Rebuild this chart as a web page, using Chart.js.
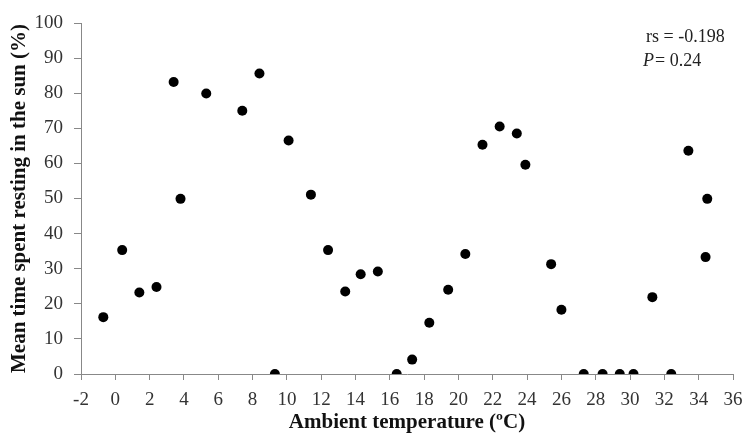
<!DOCTYPE html>
<html>
<head>
<meta charset="utf-8">
<script src="https://cdn.jsdelivr.net/npm/chart.js@4"></script>
<style>
  html, body { margin: 0; padding: 0; background: #fff; }
  #wrap { width: 747px; height: 442px; }
</style>
</head>
<body>
<div id="wrap"><canvas id="chart"></canvas></div>
<script>
// ambient temperature (ºC) and % time resting in the sun
const temps = [-0.7, 0.4, 1.4, 2.4, 3.4, 3.8, 5.3, 7.4, 8.4, 9.3, 10.1, 11.4,
    12.4, 13.4, 14.3, 15.3, 16.4, 17.3, 18.3, 19.4, 20.4, 21.4, 22.4, 23.4,
    23.9, 25.4, 26.0, 27.3, 28.4, 29.4, 30.2, 31.3, 32.4, 33.4, 34.5, 34.4];
const sunTime = [16.2, 35.3, 23.2, 24.8, 83.2, 49.9, 79.9, 75.0, 85.6, 0, 66.5, 51.1,
    35.3, 23.5, 28.4, 29.2, 0, 4.1, 14.6, 24.0, 34.2, 65.3, 70.5, 68.5,
    59.6, 31.3, 18.3, 0, 0, 0, 0, 21.9, 0, 63.6, 49.9, 33.3];
const xTicks = [-2, 0, 2, 4, 6, 8, 10, 12, 14, 16, 18, 20, 22, 24, 26, 28, 30, 32, 34, 36];
const yTicks = [0, 10, 20, 30, 40, 50, 60, 70, 80, 90, 100];

const points = temps.map((t, i) => ({ x: t, y: sunTime[i] }));

const statsText = {
    id: 'statsText',
    afterDraw(chart) {
        const ctx = chart.ctx;
        ctx.save();
        ctx.fillStyle = '#222';
        ctx.textBaseline = 'alphabetic';
        ctx.font = '18px "Liberation Serif"';
        ctx.fillText('rs = -0.198', 646, 42);
        ctx.font = 'italic 18px "Liberation Serif"';
        ctx.fillText('P', 643, 66);
        const w = ctx.measureText('P').width;
        ctx.font = '18px "Liberation Serif"';
        ctx.fillText('= 0.24', 643 + w + 1, 66);
        ctx.restore();
    }
};

new Chart(document.getElementById('chart'), {
    type: 'scatter',
    data: {
        datasets: [{
            data: points,
            backgroundColor: '#000',
            borderWidth: 0,
            pointRadius: 5,
            pointHoverRadius: 5
        }]
    },
    options: {
        responsive: true,
        maintainAspectRatio: false,
        animation: false,
        layout: { padding: { top: 23, right: 14, left: 0, bottom: 0 } },
        plugins: { legend: { display: false }, tooltip: { enabled: false } },
        scales: {
            x: {
                type: 'linear',
                min: -2, max: 36,
                afterBuildTicks: s => { s.ticks = xTicks.map(v => ({ value: v })); },
                afterFit: s => { s.height = 68; s.paddingLeft = 0; s.paddingRight = 0; },
                border: { color: '#888', width: 1 },
                grid: { drawOnChartArea: false, drawTicks: true, color: '#888', tickLength: 6 },
                ticks: {
                    color: '#333', padding: 9,
                    font: { family: 'Liberation Serif', size: 19 }
                },
                title: {
                    display: true,
                    text: 'Ambient temperature (ºC)',
                    color: '#111',
                    padding: { top: 0, bottom: 7 },
                    font: { family: 'Liberation Serif', size: 21, weight: 'bold' }
                }
            },
            y: {
                min: 0, max: 100,
                afterBuildTicks: s => { s.ticks = yTicks.map(v => ({ value: v })); },
                afterFit: s => { s.width = 81; },
                border: { color: '#888', width: 1 },
                grid: { drawOnChartArea: false, drawTicks: true, color: '#888', tickLength: 7 },
                ticks: {
                    color: '#333', padding: 11,
                    font: { family: 'Liberation Serif', size: 19 }
                },
                title: {
                    display: true,
                    text: 'Mean time spent resting in the sun (%)',
                    color: '#111',
                    padding: { top: 7, bottom: 0 },
                    font: { family: 'Liberation Serif', size: 21, weight: 'bold' }
                }
            }
        }
    },
    plugins: [statsText]
});
</script>
</body>
</html>
